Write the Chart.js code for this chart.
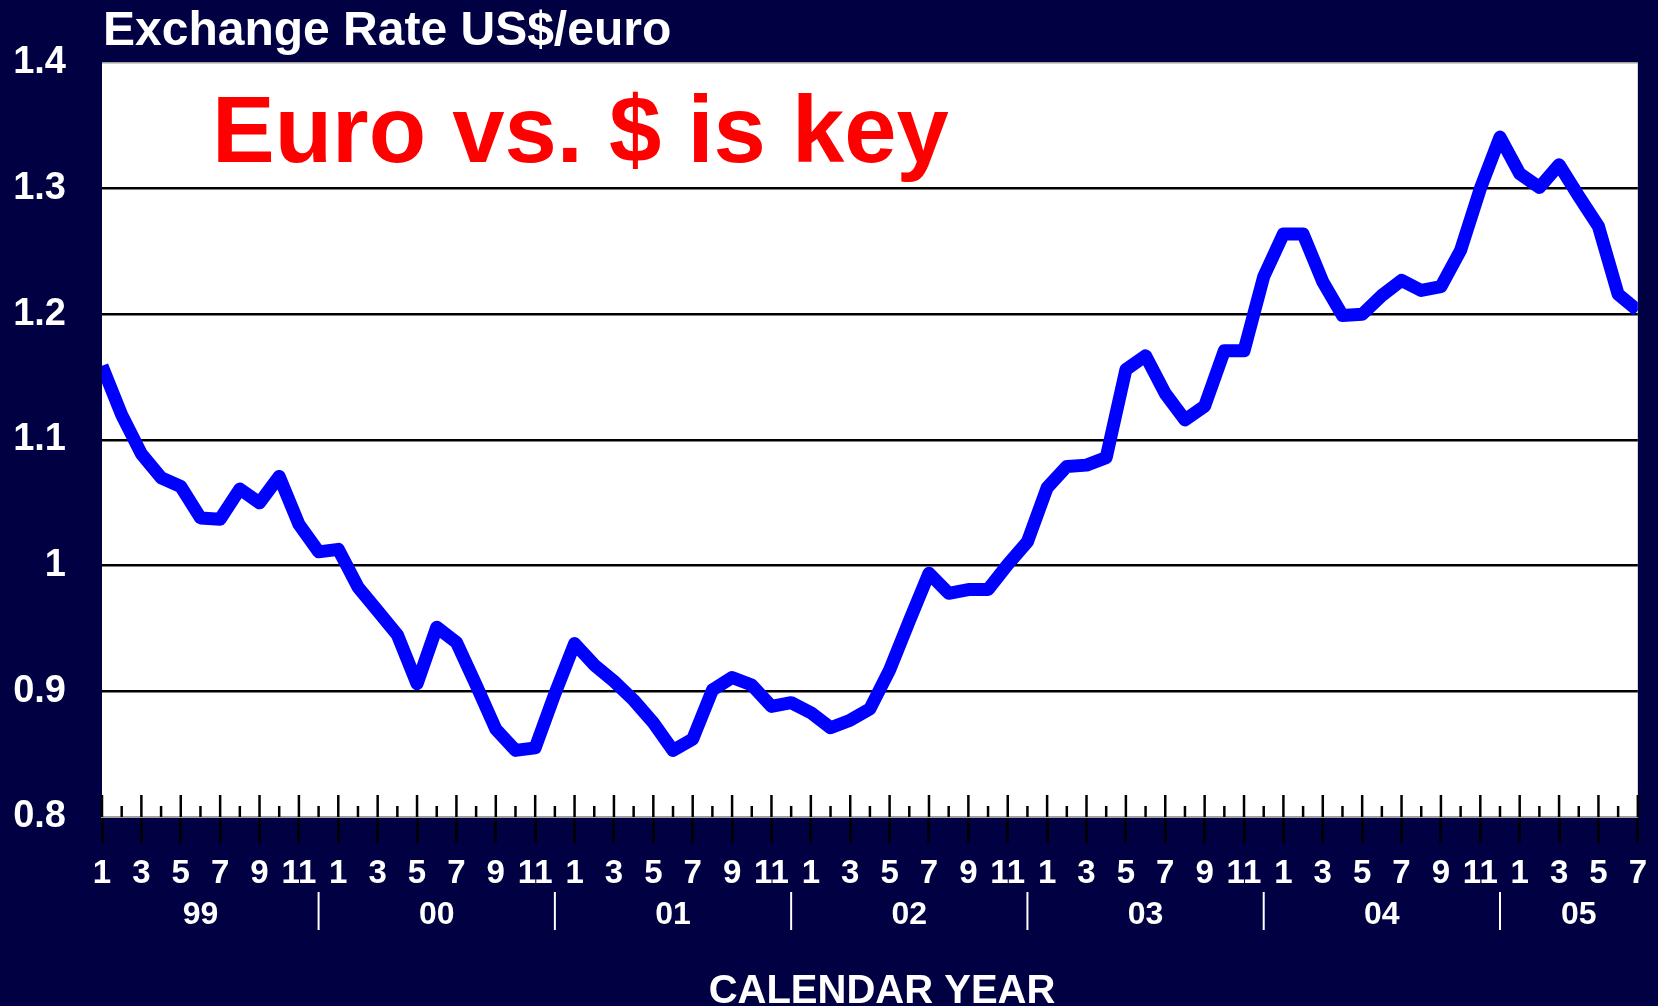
<!DOCTYPE html>
<html>
<head>
<meta charset="utf-8">
<title>Exchange Rate US$/euro</title>
<script src="https://cdn.jsdelivr.net/npm/chart.js@4.4.1/dist/chart.umd.min.js"></script>
<style>
  html, body { margin: 0; padding: 0; background: #000042; }
  #wrap { width: 1658px; height: 1006px; }
</style>
</head>
<body>
<div id="wrap"><canvas id="rateChart"></canvas></div>
<script>
// monthly US$ per euro
const rate1999 = [1.159, 1.120, 1.089, 1.070, 1.063, 1.038, 1.037, 1.061, 1.050, 1.071, 1.033, 1.011];
const rate2000 = [1.013, 0.983, 0.964, 0.945, 0.906, 0.951, 0.939, 0.905, 0.870, 0.853, 0.855, 0.898];
const rate2001 = [0.938, 0.921, 0.908, 0.893, 0.875, 0.853, 0.862, 0.901, 0.911, 0.905, 0.888, 0.891];
const rate2002 = [0.883, 0.871, 0.877, 0.886, 0.917, 0.956, 0.994, 0.978, 0.981, 0.981, 1.001, 1.019];
const rate2003 = [1.062, 1.079, 1.080, 1.086, 1.156, 1.167, 1.137, 1.116, 1.127, 1.171, 1.171, 1.230];
const rate2004 = [1.264, 1.264, 1.226, 1.199, 1.200, 1.215, 1.227, 1.219, 1.222, 1.251, 1.300, 1.341];
const rate2005 = [1.312, 1.301, 1.319, 1.294, 1.270, 1.216, 1.203];

const years = ['99', '00', '01', '02', '03', '04', '05'];
const yearRates = [rate1999, rate2000, rate2001, rate2002, rate2003, rate2004, rate2005];
const monthNames = ['1', '2', '3', '4', '5', '6', '7', '8', '9', '10', '11', '12'];

const NAVY = '#000042';
const FONT = "'Liberation Sans', Arial, sans-serif";

const monthLabels = [];
const values = [];
yearRates.forEach((arr) => {
  arr.forEach((v, m) => {
    monthLabels.push(monthNames[m]);
    values.push(v);
  });
});

const backdrop = {
  id: 'backdrop',
  beforeDraw(chart) {
    const { ctx, chartArea: a } = chart;
    ctx.save();
    ctx.fillStyle = NAVY;
    ctx.fillRect(0, 0, chart.width, chart.height);
    ctx.fillStyle = '#ffffff';
    ctx.fillRect(a.left, a.top, a.right - a.left, a.bottom - a.top);
    ctx.restore();
  }
};

const decorations = {
  id: 'decorations',
  afterDraw(chart) {
    const { ctx, chartArea: a } = chart;
    const x = chart.scales.x;
    ctx.save();

    // small month ticks standing on the axis
    ctx.strokeStyle = '#000';
    ctx.lineWidth = 2.5;
    for (let i = 0; i < values.length; i++) {
      const px = x.getPixelForValue(i);
      const len = i % 2 === 0 ? 22 : 11;
      ctx.beginPath();
      ctx.moveTo(px, a.bottom);
      ctx.lineTo(px, a.bottom - len);
      ctx.stroke();
    }

    // year labels and separators
    ctx.fillStyle = '#fff';
    ctx.strokeStyle = '#fff';
    ctx.lineWidth = 2;
    ctx.font = 'bold 32px ' + FONT;
    ctx.textAlign = 'center';
    ctx.textBaseline = 'middle';
    let start = 0;
    years.forEach((yr, k) => {
      const n = yearRates[k].length;
      const last = k === years.length - 1;
      const sep = start + 11;
      const mid = (start - 1 + (last ? start + n : sep)) / 2;
      ctx.fillText(yr, x.getPixelForValue(mid), a.bottom + 98);
      if (!last) {
        const px = x.getPixelForValue(sep);
        ctx.beginPath();
        ctx.moveTo(px, a.bottom + 75);
        ctx.lineTo(px, a.bottom + 113);
        ctx.stroke();
      }
      start += n;
    });

    // axis title
    ctx.font = 'bold 40px ' + FONT;
    ctx.textBaseline = 'alphabetic';
    ctx.fillText('CALENDAR YEAR', 882, 1003);

    // titles
    ctx.textAlign = 'left';
    ctx.font = 'bold 48px ' + FONT;
    ctx.fillText('Exchange Rate US$/euro', 103, 45);
    ctx.fillStyle = '#ff0000';
    ctx.font = 'bold 94px ' + FONT;
    ctx.fillText('Euro vs. $ is key', 212, 162);

    ctx.restore();
  }
};

new Chart('rateChart', {
  type: 'line',
  data: {
    labels: monthLabels,
    datasets: [{
      label: 'US$/euro',
      data: values,
      borderColor: '#0000ff',
      borderWidth: 13,
      borderJoinStyle: 'round',
      pointRadius: 0,
      tension: 0,
      clip: 0
    }]
  },
  options: {
    responsive: true,
    maintainAspectRatio: false,
    animation: false,
    layout: { padding: { top: 63, right: 10.5, bottom: 0, left: 0 } },
    plugins: {
      legend: { display: false },
      tooltip: { enabled: false }
    },
    scales: {
      x: {
        type: 'category',
        offset: false,
        afterFit: (scale) => { scale.height = 189; },
        border: { display: true, color: '#a0a0a0', width: 2 },
        grid: {
          drawOnChartArea: false,
          drawTicks: true,
          tickLength: 26,
          tickWidth: 2.5,
          tickColor: (c) => (c.index % 2 === 0 ? '#000' : 'rgba(0,0,0,0)')
        },
        ticks: {
          autoSkip: false,
          maxRotation: 0,
          minRotation: 0,
          padding: 11,
          color: '#fff',
          font: { family: FONT, size: 33, weight: 'bold' },
          callback: (val, i) => (i % 2 === 0 ? monthLabels[i] : '')
        }
      },
      y: {
        min: 0.8,
        max: 1.4,
        afterFit: (scale) => { scale.width = 102; },
        border: { display: false },
        grid: {
          drawTicks: false,
          color: (c) => {
            const v = c.tick.value;
            if (Math.abs(v - 1.4) < 1e-6) return '#a0a0a0';
            if (Math.abs(v - 0.8) < 1e-6) return 'rgba(0,0,0,0)';
            return '#000';
          },
          lineWidth: (c) => (Math.abs(c.tick.value - 1.4) < 1e-6 ? 1.5 : 2.5)
        },
        ticks: {
          stepSize: 0.1,
          padding: 36,
          color: '#fff',
          font: { family: FONT, size: 38, weight: 'bold' },
          callback: (v) => String(Math.round(v * 10) / 10)
        }
      }
    }
  },
  plugins: [backdrop, decorations]
});
</script>
</body>
</html>
